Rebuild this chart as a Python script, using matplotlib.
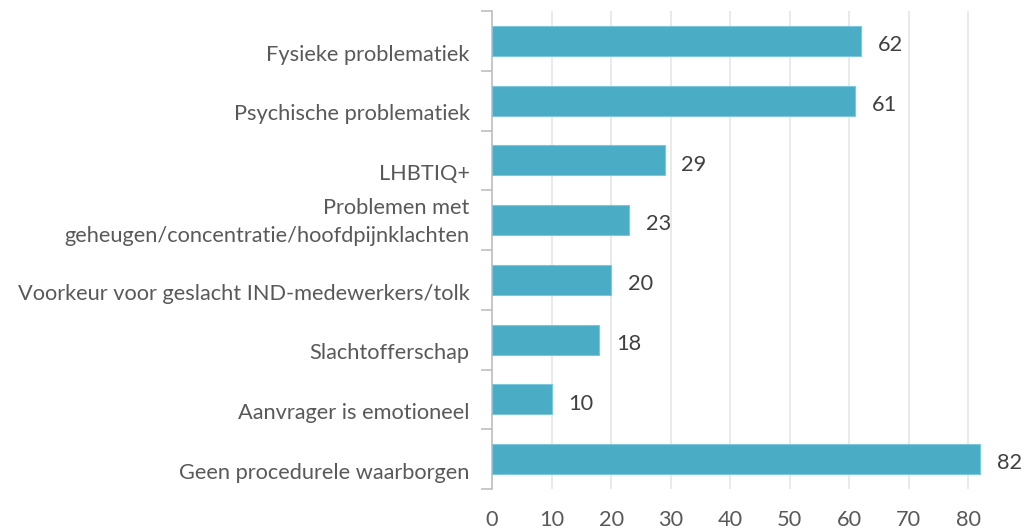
import matplotlib.pyplot as plt
import numpy as np

categories = [
    "Fysieke problematiek",
    "Psychische problematiek",
    "LHBTIQ+",
    "Problemen met\ngeheugen/concentratie/hoofdpijnklachten",
    "Voorkeur voor geslacht IND-medewerkers/tolk",
    "Slachtofferschap",
    "Aanvrager is emotioneel",
    "Geen procedurele waarborgen",
]
values = [62, 61, 29, 23, 20, 18, 10, 82]
xticks = [0, 10, 20, 30, 40, 50, 60, 70, 80]

plt.rcParams['font.family'] = ['Lato', 'DejaVu Sans']
fs = 15.7

fig = plt.figure(figsize=(10.32, 5.32), dpi=100)
ax = fig.add_axes([492 / 1032, 43 / 532, 518 / 1032, 478 / 532])

y = np.arange(len(categories))
ax.barh(y, values, height=0.5, color='#4BACC6', edgecolor='#7FC6DA', linewidth=0.8, zorder=3)

for yi, v in zip(y, values):
    ax.text(v + 2.8, yi + 0.07, str(v), va='center', ha='left', fontsize=fs, color='#404040')

ax.set_ylim(len(categories) - 0.5, -0.5)
ax.set_xlim(0, 87)
ax.set_yticks(y)
ax.set_yticklabels([])
ax.set_yticks(np.arange(-0.5, len(categories), 1), minor=True)
ax.tick_params(axis='y', which='major', length=0)
ax.tick_params(axis='y', which='minor', length=8, color='#BFBFBF', width=1.2)

# category labels, single-line ones sit a bit below the bar centre
for yi, lab in zip(y, categories):
    off = 0.03 if '\n' in lab else 0.23
    ax.annotate(lab, xy=(0, yi + off), xycoords=('axes fraction', 'data'),
                xytext=(-16, 0), textcoords='offset points',
                ha='right', va='center', fontsize=fs, color='#595959',
                linespacing=1.45)

ax.set_xticks(xticks)
ax.tick_params(axis='x', length=0, pad=15, labelsize=fs, labelcolor='#595959')
ax.grid(axis='x', color='#E6E6E6', linewidth=1.2, zorder=0)

for s in ['top', 'right', 'bottom']:
    ax.spines[s].set_visible(False)
ax.spines['left'].set_color('#BFBFBF')
ax.spines['left'].set_linewidth(1.2)

fig.savefig('out.png', dpi=100)
